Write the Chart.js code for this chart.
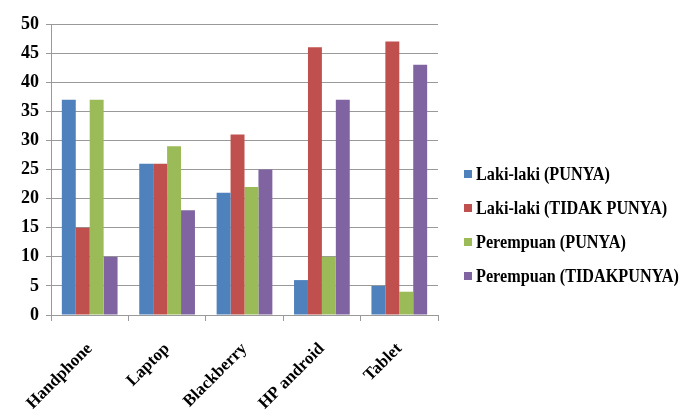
<!DOCTYPE html>
<html>
<head>
<meta charset="utf-8">
<script src="https://cdn.jsdelivr.net/npm/chart.js@4"></script>
<style>
html,body{margin:0;padding:0;background:#fff;}
canvas{display:block;}
</style>
</head>
<body>
<canvas id="c" width="679" height="416"></canvas>
<script>
const categories = ["Handphone", "Laptop", "Blackberry", "HP android", "Tablet"];
const seriesNames = ["Laki-laki (PUNYA)", "Laki-laki (TIDAK PUNYA)", "Perempuan (PUNYA)", "Perempuan (TIDAKPUNYA)"];
const lakiPunya = [37, 26, 21, 6, 5];
const lakiTidak = [15, 26, 31, 46, 47];
const perempuanPunya = [37, 29, 22, 10, 4];
const perempuanTidak = [10, 18, 25, 37, 43];
const yTicks = [0, 5, 10, 15, 20, 25, 30, 35, 40, 45, 50];

const colors = ["#4F81BD", "#C0504D", "#9BBB59", "#8064A2"];
const seriesValues = [lakiPunya, lakiTidak, perempuanPunya, perempuanTidak];

const FONT = "'Liberation Serif', 'Times New Roman', serif";

const legendPlugin = {
  id: 'customLegend',
  afterDraw(chart) {
    const ctx = chart.ctx;
    ctx.save();
    const x0 = 464, y0 = 174, step = 34;
    chart.data.datasets.forEach((ds, i) => {
      const y = y0 + i * step;
      ctx.fillStyle = ds.backgroundColor;
      ctx.fillRect(x0, y - 4, 8, 8);
      ctx.save();
      ctx.translate(x0 + 12, y);
      ctx.scale(0.9, 1);
      ctx.fillStyle = '#000';
      ctx.font = "bold 18px " + FONT;
      ctx.textBaseline = 'middle';
      ctx.fillText(ds.label, 0, 1);
      ctx.restore();
    });
    ctx.restore();
  }
};

new Chart(document.getElementById('c'), {
  type: 'bar',
  data: {
    labels: categories,
    datasets: seriesNames.map((n, i) => ({
      label: n,
      data: seriesValues[i],
      backgroundColor: colors[i],
      borderWidth: 0,
      categoryPercentage: 0.72,
      barPercentage: 1.0
    }))
  },
  options: {
    responsive: false,
    devicePixelRatio: 1,
    animation: false,
    layout: { padding: { top: 24, right: 241, left: 4, bottom: 0 } },
    plugins: { legend: { display: false }, tooltip: { enabled: false } },
    scales: {
      x: {
        grid: { display: true, drawOnChartArea: false, drawTicks: true, tickLength: 6, color: '#999', offset: true },
        border: { color: '#999' },
        ticks: {
          color: '#000',
          font: { family: FONT, size: 17, weight: 'bold' },
          minRotation: 45, maxRotation: 45,
          padding: 18
        },
        afterFit(scale) { scale.height = 101; }
      },
      y: {
        min: 0, max: 50,
        afterBuildTicks(scale) { scale.ticks = yTicks.map(v => ({ value: v })); },
        grid: { color: '#999', tickLength: 5 },
        border: { color: '#999' },
        ticks: {
          color: '#000',
          font: { family: FONT, size: 18, weight: 'bold' },
          padding: 7
        },
        afterFit(scale) { scale.width = 47; }
      }
    }
  },
  plugins: [legendPlugin]
});
</script>
</body>
</html>
